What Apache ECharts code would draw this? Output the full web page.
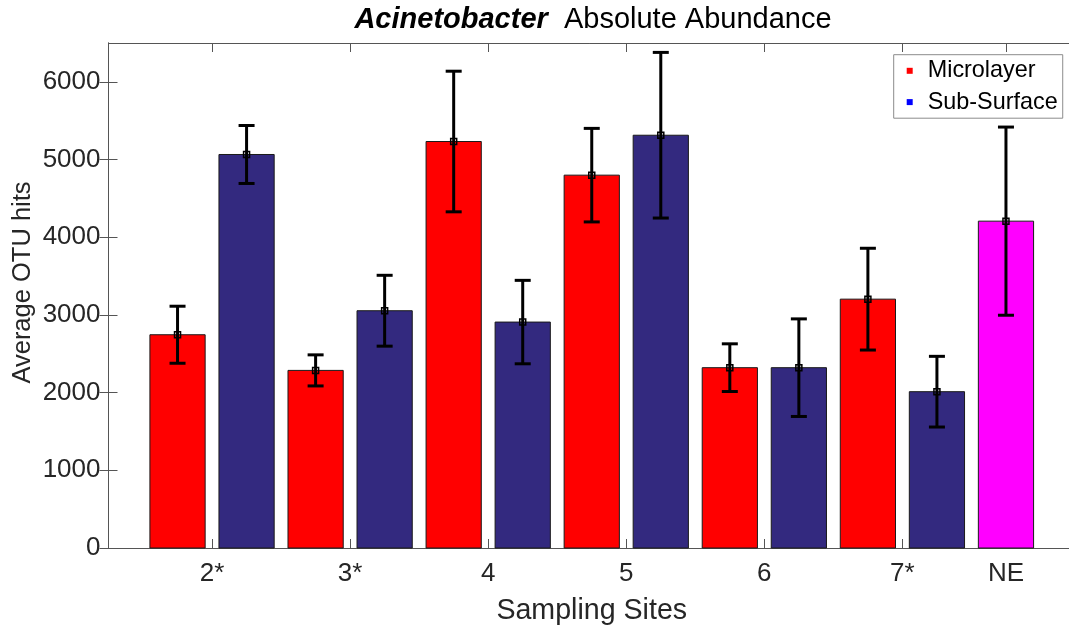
<!DOCTYPE html>
<html>
<head>
<meta charset="utf-8">
<script src="https://cdn.jsdelivr.net/npm/echarts@6/dist/echarts.min.js"></script>
<style>
  html, body { margin: 0; padding: 0; background: #fff; }
  #chart { width: 1069px; height: 630px; }
</style>
</head>
<body>
<div id="chart"></div>
<script>
// Sampling sites along the x axis
const sites = ['2*', '3*', '4', '5', '6', '7*', 'NE'];

// Mean OTU hits and error half-widths per site (paired sites 2*..7*)
const microlayer = [2745, 2286, 5232, 4799, 2321, 3203];
const microlayerErr = [367, 200, 905, 602, 307, 655];
const subSurface = [5065, 3054, 2908, 5313, 2321, 2012];
const subSurfaceErr = [373, 456, 537, 1066, 628, 455];

// Single NE reference sample
const neValue = [4207];
const neErr = [1211];

// Y axis ticks
const yTicks = [0, 1000, 2000, 3000, 4000, 5000, 6000];

const BAR_W = 0.8;
const FONT = '"Liberation Sans", Arial, Helvetica, sans-serif';
const AXIS_COLOR = '#555';
const TEXT_COLOR = '#262626';

// Slot positions: each paired site occupies two slots, NE sits in the last one
const mlX = microlayer.map((_, i) => 2 * i + 1);
const ssX = subSurface.map((_, i) => 2 * i + 2);
const neX = [2 * microlayer.length + 1];
const siteTickX = sites.map((_, i) => (i < microlayer.length ? 2 * i + 1.5 : neX[0]));

function renderBar(params, api) {
  const x = api.value(0);
  const v = api.value(1);
  const tl = api.coord([x - BAR_W / 2, v]);
  const br = api.coord([x + BAR_W / 2, 0]);
  return {
    type: 'rect',
    shape: { x: tl[0], y: tl[1], width: br[0] - tl[0], height: br[1] - tl[1] },
    style: { fill: api.visual('color'), stroke: '#1a1a1a', lineWidth: 1 }
  };
}

function renderErr(params, api) {
  const x = api.value(0);
  const v = api.value(1);
  const e = api.value(2);
  const hi = api.coord([x, v + e]);
  const lo = api.coord([x, v - e]);
  const mid = api.coord([x, v]);
  const cap = 8;
  const ls = { stroke: '#000', lineWidth: 3 };
  return {
    type: 'group',
    children: [
      { type: 'line', shape: { x1: hi[0], y1: hi[1], x2: lo[0], y2: lo[1] }, style: ls },
      { type: 'line', shape: { x1: hi[0] - cap, y1: hi[1], x2: hi[0] + cap, y2: hi[1] }, style: ls },
      { type: 'line', shape: { x1: lo[0] - cap, y1: lo[1], x2: lo[0] + cap, y2: lo[1] }, style: ls },
      { type: 'rect', shape: { x: mid[0] - 3, y: mid[1] - 3, width: 6, height: 6 },
        style: { fill: 'none', stroke: '#000', lineWidth: 1.5 } }
    ]
  };
}

function barSeries(name, xs, vals, color) {
  return {
    name: name,
    type: 'custom',
    renderItem: renderBar,
    itemStyle: { color: color },
    encode: { x: 0, y: 1 },
    data: vals.map((v, i) => [xs[i], v]),
    z: 2
  };
}

function errSeries(xs, vals, errs) {
  return {
    type: 'custom',
    renderItem: renderErr,
    encode: { x: 0, y: 1 },
    data: vals.map((v, i) => [xs[i], v, errs[i]]),
    z: 3,
    silent: true
  };
}

const chart = echarts.init(document.getElementById('chart'));

const xCommon = {
  type: 'value',
  min: 0,
  max: 14,
  splitLine: { show: false },
  axisLine: { show: true, onZero: false, lineStyle: { color: AXIS_COLOR, width: 1 } },
  axisTick: { show: true, inside: true, length: 9, customValues: siteTickX,
              lineStyle: { color: AXIS_COLOR, width: 1 } }
};

const yCommon = {
  type: 'value',
  min: 0,
  max: 6500,
  splitLine: { show: false },
  axisLine: { show: true, lineStyle: { color: AXIS_COLOR, width: 1 } },
  axisTick: { show: true, inside: true, length: 9, customValues: yTicks,
              lineStyle: { color: AXIS_COLOR, width: 1 } }
};

chart.setOption({
  animation: false,
  backgroundColor: '#fff',
  textStyle: { fontFamily: FONT },
  grid: { left: 108.5, top: 43, width: 966.5, bottom: 82, outerBoundsMode: 'none' },
  xAxis: [
    Object.assign({}, xCommon, {
      position: 'bottom',
      name: 'Sampling Sites',
      nameLocation: 'middle',
      nameGap: 49,
      nameMoveOverlap: false,
      nameTextStyle: { fontSize: 28.6, color: TEXT_COLOR, fontFamily: FONT },
      axisLabel: {
        show: true, margin: 13, fontSize: 26, color: TEXT_COLOR, fontFamily: FONT,
        customValues: siteTickX,
        formatter: (val) => sites[siteTickX.indexOf(val)] || ''
      }
    }),
    Object.assign({}, xCommon, { position: 'top', axisLabel: { show: false } })
  ],
  yAxis: [
    Object.assign({}, yCommon, {
      position: 'left',
      name: 'Average OTU hits',
      nameLocation: 'middle',
      nameGap: 73,
      nameMoveOverlap: false,
      nameTextStyle: { fontSize: 25.5, color: TEXT_COLOR, fontFamily: FONT, padding: [0, 0, 0, 26] },
      axisLabel: { show: true, margin: 8, fontSize: 26, color: TEXT_COLOR, fontFamily: FONT,
                   customValues: yTicks, formatter: (v) => String(v) }
    }),
    Object.assign({}, yCommon, { position: 'right', axisLabel: { show: false } })
  ],
  legend: {
    data: [
      { name: 'Microlayer', itemStyle: { color: '#ff0000' } },
      { name: 'Sub-Surface', itemStyle: { color: '#0000ff' } }
    ],
    orient: 'vertical',
    left: 893.7,
    top: 54.7,
    padding: [4.6, 5, 4.6, 13],
    itemGap: 8.3,
    itemWidth: 6,
    itemHeight: 6,
    icon: 'rect',
    backgroundColor: '#fff',
    borderColor: '#8c8c8c',
    borderWidth: 1,
    borderRadius: 0,
    selectedMode: false,
    textStyle: { fontSize: 23.4, color: '#000', fontFamily: FONT, padding: [0, 0, 0, 10] }
  },
  graphic: [{
    type: 'text',
    x: 593,
    y: 20,
    style: {
      text: '{b|Acinetobacter}  {n|Absolute Abundance}',
      align: 'center',
      verticalAlign: 'middle',
      rich: {
        b: { fontSize: 29, fontWeight: 'bold', fontStyle: 'italic', fill: '#000', fontFamily: FONT },
        n: { fontSize: 29, fill: '#000', fontFamily: FONT }
      },
      fontSize: 29,
      fontFamily: FONT,
      fill: '#000'
    }
  }],
  series: [
    barSeries('Microlayer', mlX, microlayer, '#ff0000'),
    barSeries('Sub-Surface', ssX, subSurface, '#33297f'),
    barSeries('NE', neX, neValue, '#ff00ff'),
    errSeries(mlX, microlayer, microlayerErr),
    errSeries(ssX, subSurface, subSurfaceErr),
    errSeries(neX, neValue, neErr)
  ]
});
</script>
</body>
</html>
